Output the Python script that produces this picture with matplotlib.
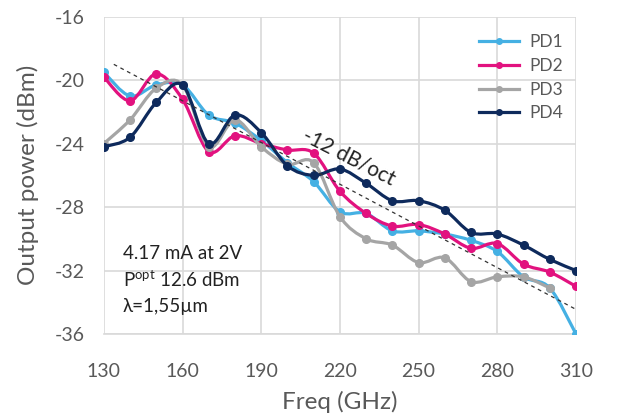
import numpy as np
import matplotlib.pyplot as plt
from matplotlib.path import Path
from matplotlib.patches import PathPatch

plt.rcParams['font.family'] = ['Lato', 'DejaVu Sans']
plt.rcParams['axes.unicode_minus'] = False

freq = [130, 140, 150, 160, 170, 180, 190, 200, 210, 220, 230, 240, 250, 260, 270, 280, 290, 300, 310]
pd1 = [-19.5, -21.0, -20.3, -20.3, -22.2, -22.7, -23.8, -25.2, -26.4, -28.3, -28.4, -29.5, -29.5, -29.7, -30.1, -30.8, -32.4, -33.1, -36.0]
pd2 = [-19.8, -21.3, -19.6, -21.2, -24.5, -23.5, -24.0, -24.4, -24.6, -27.0, -28.4, -29.2, -29.1, -29.7, -30.6, -30.3, -31.6, -32.1, -33.0]
pd3 = [-24.0, -22.5, -20.5, -20.3, -24.2, -22.5, -24.2, -25.3, -25.2, -28.6, -30.0, -30.4, -31.5, -31.2, -32.7, -32.4, -32.4, -33.1]
pd4 = [-24.2, -23.6, -21.4, -20.3, -24.0, -22.2, -23.3, -25.4, -26.0, -25.6, -26.5, -27.6, -27.6, -28.2, -29.6, -29.7, -30.4, -31.3, -32.0]
slope_x = [133.8, 311.7]
slope_y = [-19.0, -34.6]

series = [('PD1', pd1, '#45b0e3'), ('PD2', pd2, '#e2127f'),
          ('PD3', pd3, '#a5a5a5'), ('PD4', pd4, '#0e2a5c')]


def smooth_path(x, y):
    # excel-style smoothed line: bezier segments through every point
    p = np.column_stack([x, y]).astype(float)
    verts = [p[0]]
    codes = [Path.MOVETO]
    n = len(p)
    for i in range(n - 1):
        p0 = p[i - 1] if i > 0 else p[i]
        p3 = p[i + 2] if i + 2 < n else p[i + 1]
        c1 = p[i] + (p[i + 1] - p0) / 6.0
        c2 = p[i + 1] - (p3 - p[i]) / 6.0
        verts += [c1, c2, p[i + 1]]
        codes += [Path.CURVE4] * 3
    return Path(verts, codes)


fig = plt.figure(figsize=(6.18, 4.19), dpi=100)
ax = fig.add_axes([0.168, 0.203, 0.764, 0.757])

for name, vals, col in series:
    xs = freq[:len(vals)]
    ax.add_patch(PathPatch(smooth_path(xs, vals), fill=False, edgecolor=col,
                           lw=2.3, zorder=3, capstyle='round', joinstyle='round'))
    ax.plot(xs, vals, ls='none', color=col, marker='o', ms=5.5, zorder=3)
    ax.plot([], [], color=col, lw=2.3, marker='o', ms=4, label=name)

ax.plot(slope_x, slope_y, ls=(0, (3, 3)), color='#333333', lw=0.9, zorder=4)
ax.text(223.5, -24.85, '-12 dB/oct', rotation=-27, fontsize=15, color='#222222',
        ha='center', va='center', rotation_mode='anchor')

ax.set_xlim(130, 310)
ax.set_ylim(-36, -16)
ax.set_xticks(np.arange(130, 311, 30))
ax.set_yticks(np.arange(-36, -15, 4))
ax.grid(True, color='#d9d9d9', lw=1.2)
ax.set_axisbelow(True)
for s in ['top', 'right', 'left']:
    ax.spines[s].set_visible(False)
ax.spines['bottom'].set_color('#d9d9d9')
ax.spines['bottom'].set_linewidth(1.2)
ax.tick_params(length=0, labelsize=14, colors='#595959')
ax.tick_params(axis='x', pad=21)
ax.tick_params(axis='y', pad=14)

ax.set_xlabel('Freq (GHz)', fontsize=17.5, color='#595959', labelpad=8)
ax.set_ylabel('Output power (dBm)', fontsize=17.5, color='#595959', labelpad=11)

ax.text(0.04, 0.255, '4.17 mA at 2V', transform=ax.transAxes, fontsize=13.5,
        color='#222222', va='center')
ax.text(0.04, 0.17, r'P$^{\mathregular{opt}}$ 12.6 dBm', transform=ax.transAxes,
        fontsize=13.5, color='#222222', va='center')
ax.text(0.04, 0.085, 'λ=1,55µm', transform=ax.transAxes, fontsize=13.5,
        color='#222222', va='center')

leg = ax.legend(loc='upper right', bbox_to_anchor=(1.005, 0.995), frameon=False,
                fontsize=12.5, handlelength=2.3, labelspacing=0.45, handletextpad=0.6)
for t in leg.get_texts():
    t.set_color('#595959')

fig.savefig('out.png', dpi=100)
